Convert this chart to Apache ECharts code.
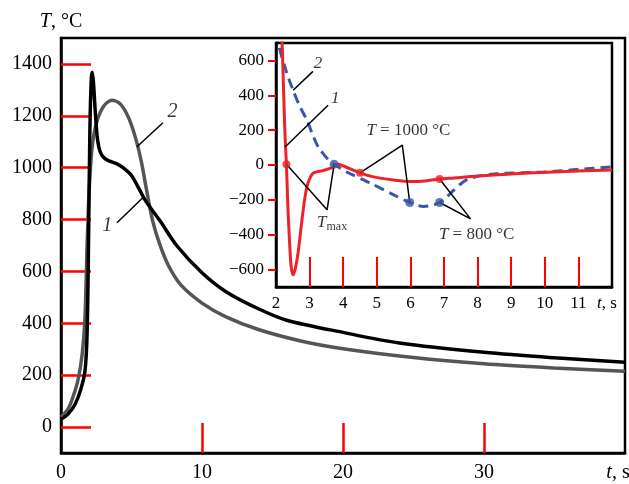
<!DOCTYPE html>
<html>
<head>
<meta charset="utf-8">
<script src="https://cdn.jsdelivr.net/npm/echarts@6/dist/echarts.min.js"></script>
<style>
  html, body { margin: 0; padding: 0; background: #fff; }
  #chart { width: 629px; height: 484px; background: #fff; }
</style>
</head>
<body>
<div id="chart"></div>
<script>
// main chart: temperature vs time
const curve1 = [[0,30],[0.5,50],[1.0,88],[1.4,145],[1.7,215],[1.85,360],[1.95,700],[2.05,1150],[2.15,1345],[2.22,1368],[2.3,1330],[2.45,1200],[2.6,1105],[2.8,1058],[3.1,1036],[3.5,1024],[4.0,1014],[4.4,1000],[5.0,970],[5.5,922],[6.0,872],[7.0,797],[8.2,700],[10,595],[11.7,522],[14,456],[16,412],[20,365],[24,324],[30,288],[35,267],[40,250]];
const curve2 = [[0,38],[0.5,70],[0.8,108],[1.2,180],[1.5,280],[1.7,420],[1.85,700],[2.0,915],[2.2,1075],[2.5,1170],[3.0,1235],[3.6,1260],[4.2,1246],[4.8,1192],[5.3,1112],[5.7,1022],[6.1,905],[6.5,795],[7.0,705],[7.6,625],[8.5,548],[10,478],[11.7,425],[14,376],[17,332],[20,302],[25,268],[30,244],[35,228],[40,215]];
const mainYTicks = [0,200,400,600,800,1000,1200,1400];
const mainXTicks = [0,10,20,30,40];

// inset: rate of temperature change
const rate1 = [[2.17,760],[2.2,600],[2.24,330],[2.28,120],[2.31,5],[2.35,-220],[2.4,-430],[2.45,-580],[2.51,-630],[2.58,-590],[2.66,-500],[2.77,-320],[2.85,-200],[2.92,-126],[3.0,-80],[3.11,-46],[3.4,-32],[3.67,-15],[3.85,5],[4.06,-10],[4.5,-45],[4.9,-68],[5.5,-86],[6.0,-95],[6.5,-90],[6.87,-80],[7.3,-74],[8.0,-63],[9.5,-46],[11,-35],[12,-28]];
const rate2 = [[2.0,760],[2.06,700],[2.3,540],[2.51,428],[2.7,340],[2.92,257],[3.1,170],[3.26,103],[3.56,29],[3.73,5],[4.1,-40],[4.8,-103],[5.5,-171],[5.98,-215],[6.4,-238],[6.7,-228],[6.87,-215],[7.1,-180],[7.3,-143],[7.55,-100],[7.8,-74],[8.5,-51],[10,-40],[11,-25],[12,-11]];
const dots1 = [[2.31,5],[4.5,-45],[6.87,-80]];
const dots2 = [[3.73,5],[5.98,-215],[6.87,-215]];
const insetYTicks = [-600,-400,-200,0,200,400,600];
const insetXTicks = [2,3,4,5,6,7,8,9,10,11,12];

// annotation leaders (data units)
const mainLeaders = [
  [[7.23,1173],[5.39,1081]],
  [[3.97,788],[5.82,885]]
];
const mainNotes = [
  { value: [7.9,1215], text: '{i|2}' },
  { value: [3.28,777], text: '{i|1}' }
];
const insetLeaders = [
  [[3.10,537],[2.51,429]],
  [[3.55,343],[2.27,103]],
  [[4.5,-45],[5.76,114],[5.98,-215]],
  [[2.31,5],[3.52,-257],[3.73,5]],
  [[6.87,-80],[7.79,-309],[6.87,-215]]
];
const insetNotes = [
  { value: [3.25,583], text: '{i|2}' },
  { value: [3.76,383], text: '{i|1}' },
  { value: [5.94,200], text: '{i|T} = 1000 °C' },
  { value: [3.67,-330], text: '{i|T}{s|max}' },
  { value: [7.97,-400], text: '{i|T} = 800 °C' }
];

const FONT = 'Liberation Serif';
const minus = v => String(v).replace('-', '\u2212');

const chart = echarts.init(document.getElementById('chart'));

const noteRich = (size) => ({
  i: { fontFamily: FONT, fontStyle: 'italic', fontSize: size, color: '#000' },
  s: { fontFamily: FONT, fontSize: size - 5, color: '#000', padding: [8, 0, 0, 0] }
});

function segs (list, xi, z, width) {
  return list.map(pts => ({
    type: 'line',
    xAxisIndex: xi, yAxisIndex: xi,
    data: pts,
    symbol: 'none',
    z: z,
    lineStyle: { color: '#000', width: width },
    silent: true
  }));
}

function notes (list, xi, size, z) {
  return {
    type: 'scatter',
    xAxisIndex: xi, yAxisIndex: xi,
    symbolSize: 0,
    z: z,
    silent: true,
    data: list.map(n => ({ value: n.value, label: { formatter: n.text } })),
    label: {
      show: true,
      position: 'inside',
      fontFamily: FONT,
      fontSize: size,
      color: '#000',
      rich: noteRich(size)
    }
  };
}

const axisLine = w => ({ show: true, onZero: false, lineStyle: { color: '#000', width: w } });
const unitRich = (size, pad) => ({
  i: { fontFamily: FONT, fontStyle: 'italic', fontSize: size, color: '#000' },
  n: { fontFamily: FONT, fontSize: size, color: '#000', padding: [0, pad, 0, 0] }
});

let option = {
  animation: false,
  textStyle: { fontFamily: FONT },
  grid: [
    { left: 61, top: 38, width: 564, height: 415, show: true, borderColor: '#000', borderWidth: 2.5, outerBoundsMode: 'none' },
    { left: 276, top: 43, width: 336, height: 244, show: true, backgroundColor: '#fff', borderColor: '#000', borderWidth: 2.5, z: 3, outerBoundsMode: 'none' }
  ],
  xAxis: [
    {
      gridIndex: 0, type: 'value', min: 0, max: 40,
      axisLine: axisLine(2.5),
      splitLine: { show: false },
      axisTick: { show: true, inside: true, length: 30, customValues: [10, 20, 30], lineStyle: { color: 'red', width: 2.5 } },
      axisLabel: {
        customValues: mainXTicks, margin: 10,
        fontFamily: FONT, fontSize: 20, color: '#000',
        formatter: v => v === 40 ? '{i|t}{n|, s}' : String(v),
        rich: unitRich(20, 14)
      }
    },
    {
      gridIndex: 1, type: 'value', min: 2, max: 12, z: 6,
      axisLine: axisLine(2.5),
      splitLine: { show: false },
      axisTick: { show: true, inside: true, length: 30, customValues: [3,4,5,6,7,8,9,10,11], lineStyle: { color: 'red', width: 2 } },
      axisLabel: {
        customValues: insetXTicks, margin: 8,
        fontFamily: FONT, fontSize: 17, color: '#000',
        formatter: v => v === 12 ? '{i|t}{n|, s}' : String(v),
        rich: unitRich(17, 10)
      }
    }
  ],
  yAxis: [
    {
      gridIndex: 0, type: 'value', min: -100, max: 1500,
      axisLine: axisLine(2.5),
      splitLine: { show: false },
      axisTick: { show: true, inside: true, length: 30, customValues: mainYTicks, lineStyle: { color: 'red', width: 2.5 } },
      axisLabel: {
        customValues: mainYTicks, margin: 9,
        fontFamily: FONT, fontSize: 20, color: '#000',
        formatter: v => String(v)
      },
      name: '{i|T}, °C',
      nameLocation: 'end',
      nameGap: 6,
      nameTextStyle: {
        fontFamily: FONT, fontSize: 20, color: '#000', align: 'center',
        rich: { i: { fontFamily: FONT, fontStyle: 'italic', fontSize: 20, color: '#000' } }
      }
    },
    {
      gridIndex: 1, type: 'value', min: -700, max: 700, z: 6,
      axisLine: axisLine(2.5),
      splitLine: { show: false },
      axisTick: { show: true, inside: false, length: 8, customValues: insetYTicks, lineStyle: { color: 'red', width: 2 } },
      axisLabel: {
        customValues: insetYTicks, margin: 12,
        fontFamily: FONT, fontSize: 17, color: '#000',
        formatter: minus
      }
    }
  ],
  series: [
    { type: 'line', xAxisIndex: 0, yAxisIndex: 0, data: curve2, smooth: 0.3, symbol: 'none', z: 1,
      lineStyle: { color: '#555', width: 3.5 } },
    { type: 'line', xAxisIndex: 0, yAxisIndex: 0, data: curve1, smooth: 0.3, symbol: 'none', z: 1,
      lineStyle: { color: '#000', width: 3.5 } },
    ...segs(mainLeaders, 0, 1, 1.5),
    notes(mainNotes, 0, 20, 1),

    { type: 'line', xAxisIndex: 1, yAxisIndex: 1, data: rate2, smooth: 0.3, symbol: 'none', z: 5,
      lineStyle: { color: '#3b56a6', width: 3, type: [10, 6] } },
    { type: 'line', xAxisIndex: 1, yAxisIndex: 1, data: rate1, smooth: 0.3, symbol: 'none', z: 5,
      lineStyle: { color: '#ee2229', width: 3 } },
    ...segs(insetLeaders, 1, 5, 1.5),
    { type: 'scatter', xAxisIndex: 1, yAxisIndex: 1, data: dots1, symbolSize: 8, z: 7,
      itemStyle: { color: '#ee2229' } },
    { type: 'scatter', xAxisIndex: 1, yAxisIndex: 1, data: dots2, symbolSize: 9, z: 7,
      itemStyle: { color: '#3b56a6' } },
    notes(insetNotes, 1, 17, 7)
  ]
};

chart.setOption(option);
</script>
</body>
</html>
